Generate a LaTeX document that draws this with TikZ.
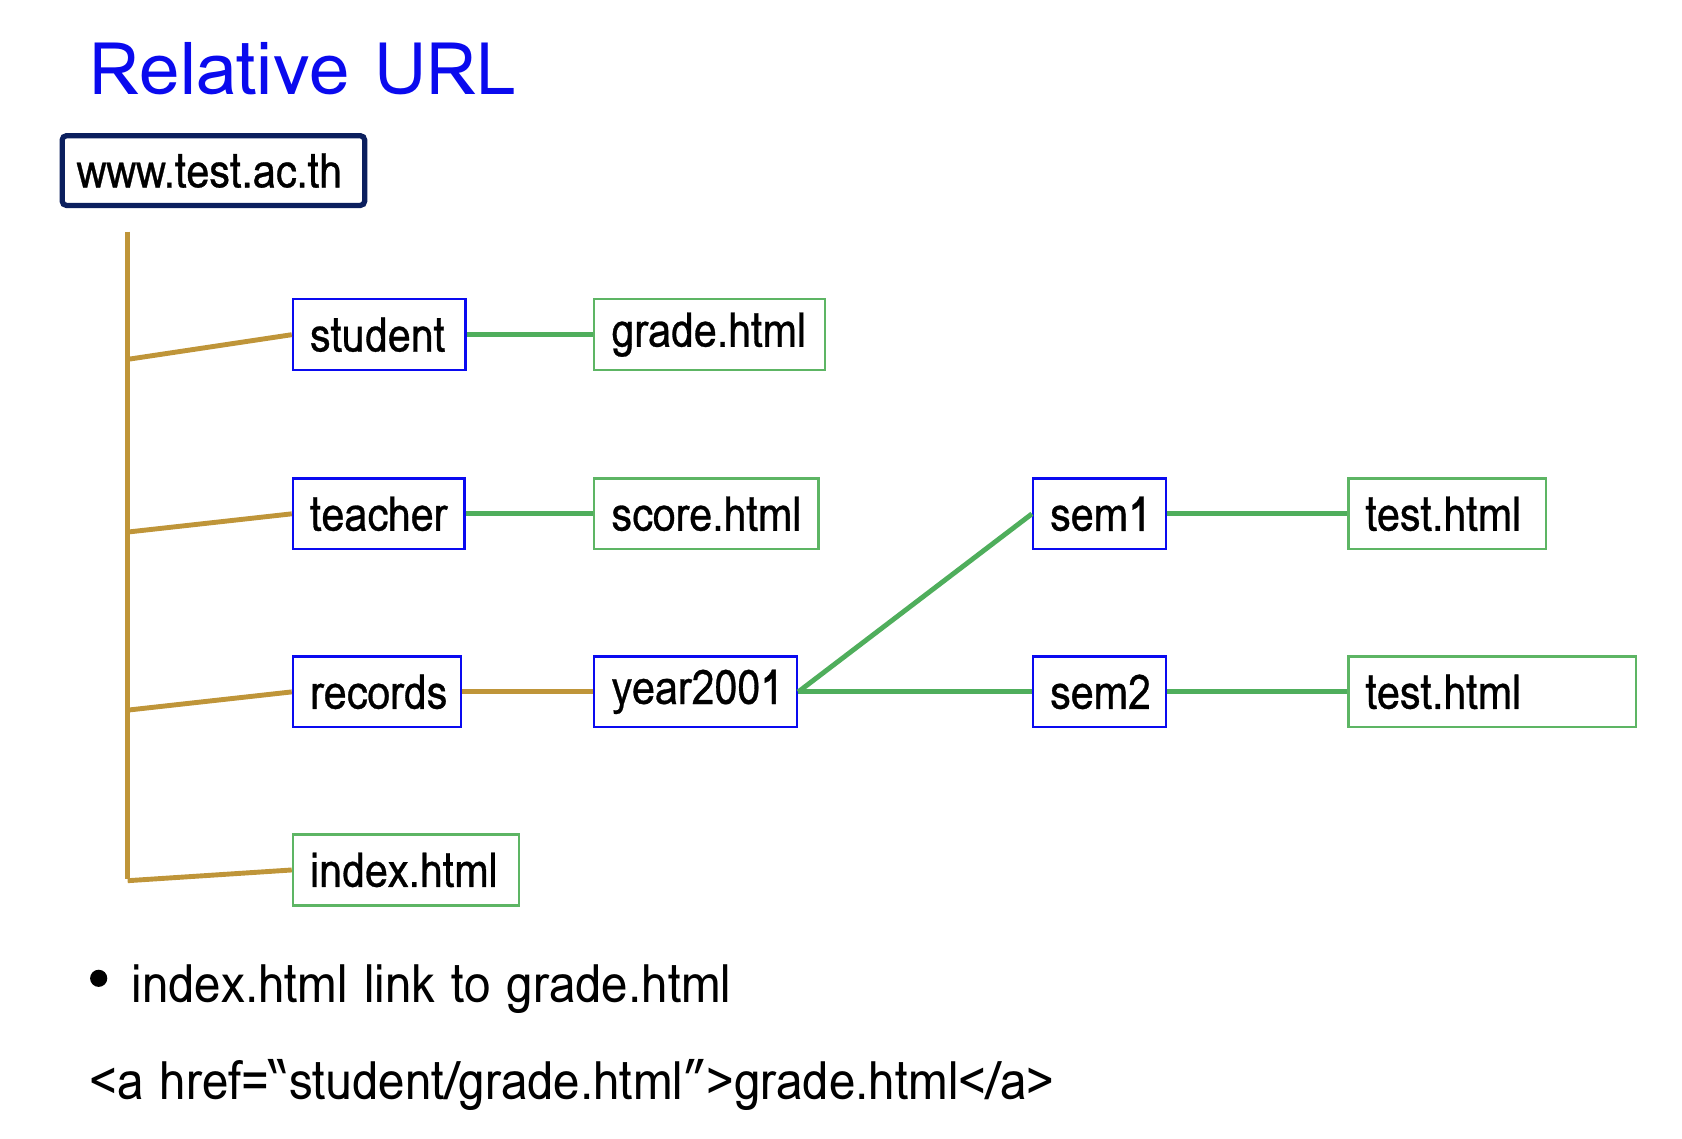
\documentclass[tikz,border=0pt]{standalone}
\usepackage{fontspec}
\setmainfont{Loma}
\newfontfamily\boxfont[FakeStretch=0.86, FakeBold=0.6]{Loma}
\newfontfamily\notefont[FakeStretch=0.9]{Loma}
\usetikzlibrary{positioning}
\definecolor{navybox}{HTML}{0B1F5E}
\definecolor{trunkgold}{HTML}{BF9539}
\definecolor{linkgreen}{HTML}{4FAE5C}
\definecolor{dirblue}{HTML}{0A0AF0}
\definecolor{filegreen}{HTML}{5DB564}
\definecolor{titleblue}{HTML}{0A0AEE}

\begin{document}
\begin{tikzpicture}[
      x=0.1mm, y=-0.1mm,
      font=\boxfont\fontsize{12.7}{15}\selectfont,
      root/.style={draw=navybox, line width=1.4pt, rounded corners=0.4mm,
                   anchor=west, minimum height=6.5mm, inner xsep=1.35mm, align=left},
      dir/.style={draw=dirblue, line width=0.6pt, anchor=west, minimum height=6.6mm,
                  inner xsep=1.6mm, align=left},
      file/.style={dir, draw=filegreen},
      trunk/.style={draw=trunkgold, line width=1.3pt},
      link/.style={draw=linkgreen, line width=1.3pt},
    ]
    \useasboundingbox (0,0) rectangle (1568,1061);

    \node[anchor=base west, inner sep=0, text=titleblue,
          font=\fontsize{19.3}{23}\selectfont] (title) at (83,88) {Relative URL};
    \node[root, text width=25.5mm] (www) at (55.5,159) {www.test.ac.th};

    % folders and files
    \node[dir,  text width=12.9mm] (student) at (272,312) {student};
    \node[file, text width=18.3mm] (grade)   at (553,312) {grade.html};
    \node[dir,  text width=12.8mm] (teacher) at (272,479) {teacher};
    \node[file, text width=17.7mm] (score)   at (553,479) {score.html};
    \node[dir,  text width=12.5mm] (records) at (272,645) {records};
    \node[dir,  text width=15.7mm] (year)    at (553,645) {year2001};
    \node[dir,  text width=9.2mm]  (semA)    at (962,479) {sem1};
    \node[file, text width=15.2mm] (testA)   at (1256,479) {test.html};
    \node[dir,  text width=9.2mm]  (semB)    at (962,645) {sem2};
    \node[file, text width=23.6mm] (testB)   at (1256,645) {test.html};
    \node[file, text width=17.9mm] (index)   at (272,811) {index.html};

    % trunk from the root down
    \coordinate (top) at (119,216);
    \coordinate (j1) at (119,335);
    \coordinate (j2) at (119,496);
    \coordinate (j3) at (119,662);
    \coordinate (j4) at (119,821);
    \draw[trunk] (top) -- (119,819);
    \draw[trunk] (j1) -- (student.west);
    \draw[trunk] (j2) -- (teacher.west);
    \draw[trunk] (j3) -- (records.west);
    \draw[trunk] (j4) -- (index.west);
    \draw[trunk] (records) -- (year);

    \draw[link] (student) -- (grade);
    \draw[link] (teacher) -- (score);
    \draw[link] (year.east) -- (semA.west);
    \draw[link] (year.east) -- (semB.west);
    \draw[link] (semA) -- (testA);
    \draw[link] (semB) -- (testB);

    % note below the tree
    \node[circle, fill=black, inner sep=0, minimum size=1.6mm] (dot) at (92,912) {};
    \node[anchor=base west, inner sep=0, font=\notefont\fontsize{14}{17}\selectfont]
      (note) at (122,935) {index.html link to grade.html};
    \node[anchor=base west, inner sep=0, font=\notefont\fontsize{14}{17}\selectfont]
      (code) at (83,1025) {<a href=“student/grade.html”>grade.html</a>};
  \end{tikzpicture}
\end{document}
